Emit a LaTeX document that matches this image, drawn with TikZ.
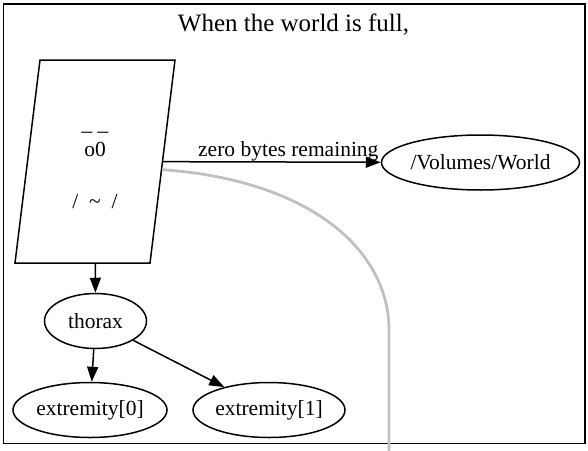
\documentclass[tikz,border=0pt]{standalone}
\usepackage{fontspec}
\setmainfont{Liberation Serif}
\usetikzlibrary{positioning,shapes.geometric,calc,arrows.meta}
\definecolor{trailGray}{HTML}{C0C0C0}
\newcommand{\nodeFont}{\fontsize{21.5}{25.8}\selectfont}
\newcommand{\titleFont}{\fontsize{25}{30}\selectfont}
\tikzstyle{worldPic} = [x = 1pt, y = -1pt]
\tikzstyle{clusterFrame} = [line width=1.5pt]
\tikzstyle{graphEdge} = [line width=1.5pt, -{Triangle[length=15pt,width=11pt]}]
\tikzstyle{trailEdge} = [color=trailGray, line width=2.8pt]
\tikzstyle{blobNode} = [draw, ellipse, line width=1.5pt, inner sep=0pt, minimum height=55pt, font=\nodeFont]
\tikzstyle{faceNode} = [draw, trapezium, trapezium left angle=77.1, trapezium right angle=102.9, trapezium stretches body, minimum width=160pt, minimum height=203pt, inner sep=0pt, line width=1.5pt, align=center, font=\nodeFont]
\begin{document}
\begin{tikzpicture}[worldPic]
    \useasboundingbox (0,0) rectangle (588,450);
    \draw [clusterFrame] (3.5,4) rectangle (585,443.5);
    \node [font=\titleFont, anchor=base] (title) at (293.5,31.7) {When the world is full,};
    \node [faceNode] (face) at (95,161.5) {\rule{0pt}{24pt}\textunderscore\ \textunderscore\\ o0\\ \mbox{}\\ /\ \ \textasciitilde\ \ /\strut};
    \node [blobNode, minimum width=187pt] (world) at (480.5,162.5) {/Volumes/World};
    \node [blobNode, minimum width=102pt] (thorax) at (95.5,321) {thorax};
    \node [blobNode, minimum width=154pt] (limb0) at (90,410) {extremity[0]};
    \node [blobNode, minimum width=152pt] (limb1) at (269,410) {extremity[1]};
    \coordinate (drain) at (389,460);
    \draw [trailEdge] ($(face.top right corner)!0.54!(face.bottom right corner)$) .. controls (310,180) and (389,250) .. (389,330) -- (drain);
    \draw [graphEdge] (face) -- (world) node [pos=0.575, anchor=base, yshift=5.5pt, font=\nodeFont] (bytesLabel) {zero bytes remaining};
    \draw [graphEdge] (face) -- (thorax);
    \draw [graphEdge] (thorax) -- (limb0);
    \draw [graphEdge] (thorax) -- (limb1);
\end{tikzpicture}
\end{document}
